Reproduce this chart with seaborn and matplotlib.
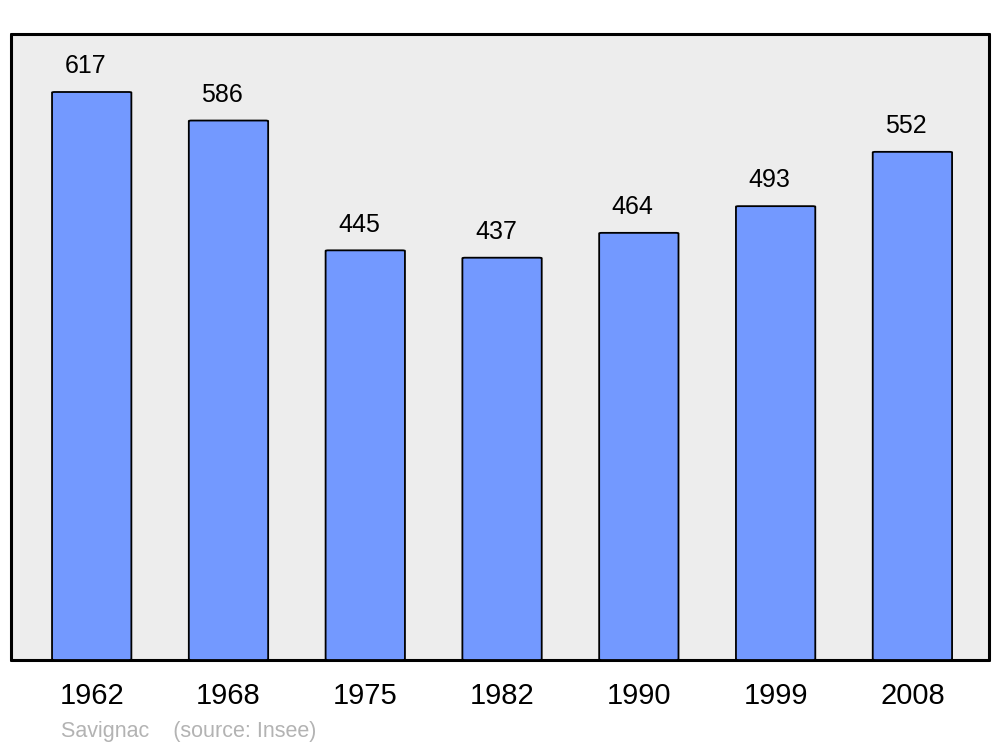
import matplotlib
matplotlib.use("Agg")
import matplotlib.pyplot as plt
import seaborn as sns
import pandas as pd
from matplotlib.patches import FancyBboxPatch

years = ["1962", "1968", "1975", "1982", "1990", "1999", "2008"]
population = [617, 586, 445, 437, 464, 493, 552]
title_text = "Savignac    (source: Insee)"

sns.set_theme(style="white")
plt.rcParams["font.family"] = ["Liberation Sans", "DejaVu Sans"]

df = pd.DataFrame({"year": years, "pop": population})

fig = plt.figure(figsize=(10, 7.47), dpi=100)
ax = fig.add_axes([0.011, 1 - 660 / 747, 0.978, 626 / 747])
ax.set_facecolor("#ededed")

sns.barplot(data=df, x="year", y="pop", order=years, color="#7399ff",
            saturation=1, width=0.58, edgecolor="black", linewidth=1.3, ax=ax)

# replace bars with slightly rounded ones
for p in list(ax.patches):
    x, y = p.get_x(), p.get_y()
    w, h = p.get_width(), p.get_height()
    p.set_visible(False)
    fb = FancyBboxPatch((x, y), w, h, boxstyle="round,pad=0,rounding_size=0.02",
                        mutation_aspect=30, facecolor="#7399ff", edgecolor="black",
                        linewidth=1.3, zorder=3)
    ax.add_patch(fb)

ax.set_xlim(-0.59, 6.56)
ax.set_ylim(0, 680)

for i, v in enumerate(population):
    ax.text(i - 0.045, v + 28, str(v), ha="center", va="center", fontsize=18, color="black")

ax.set_yticks([])
ax.set_xlabel("")
ax.set_ylabel("")
ax.tick_params(axis="x", length=0, pad=16, labelsize=21, labelcolor="black")
for s in ax.spines.values():
    s.set_visible(True)
    s.set_color("black")
    s.set_linewidth(2.2)
    s.set_capstyle("round")
    s.set_joinstyle("round")

fig.text(61 / 1000, 1 - 731 / 747, title_text, fontsize=15.5, color="#b3b3b3",
         ha="left", va="center")

fig.savefig("out.png", dpi=100)
